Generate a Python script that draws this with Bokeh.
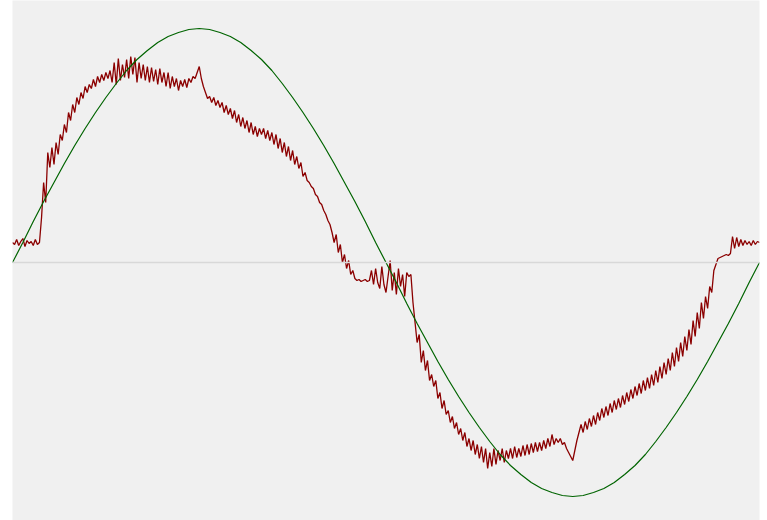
from bokeh.plotting import figure
from bokeh.models import Span, Range1d
from bokeh.embed import file_html
from bokeh.resources import INLINE

# Reference sine (green), one period, one value every 10 samples
green_quarter = [0, 20, 41, 61, 80, 99, 117, 134, 150, 165,
                 179, 192, 203, 212, 220, 226, 230, 233, 234]
green_vals = (green_quarter + green_quarter[-2::-1]
              + [-v for v in green_quarter[1:]] + [-v for v in green_quarter[-2::-1]])
green_x = list(range(0, 10 * len(green_vals), 10))

# Measured signal (dark red), one value every 2 samples
red_vals = [
    20, 18, 23, 17, 21, 24, 16, 22, 19, 21,
    17, 23, 18, 20, 45, 80, 60, 110, 95, 115,
    98, 120, 108, 128, 122, 138, 130, 150, 142, 158,
    150, 165, 158, 170, 164, 176, 170, 178, 174, 183,
    176, 186, 180, 188, 182, 190, 184, 192, 180, 200,
    178, 204, 182, 198, 185, 203, 184, 206, 188, 205,
    180, 200, 184, 198, 182, 196, 180, 195, 181, 193,
    178, 194, 180, 190, 176, 190, 174, 186, 176, 184,
    172, 182, 176, 183, 175, 184, 180, 186, 184, 190,
    196, 184, 176, 170, 164, 166, 160, 165, 157, 162,
    155, 160, 150, 157, 148, 154, 144, 152, 140, 148,
    136, 145, 134, 142, 130, 140, 128, 136, 126, 134,
    128, 134, 124, 132, 122, 130, 118, 128, 114, 124,
    110, 120, 106, 116, 102, 112, 98, 106, 94, 100,
    86, 90, 82, 80, 76, 74, 68, 66, 60, 58,
    52, 48, 42, 38, 30, 20, 28, 10, 18, 0,
    8, -6, 2, -12, -8, -16, -18, -17, -19, -18,
    -17, -19, -18, -8, -22, -6, -20, -26, -4, -22,
    -30, -14, 2, -28, -10, -32, -6, -24, -12, -34,
    -10, -14, -12, -40, -60, -80, -72, -100, -88, -108,
    -98, -118, -112, -124, -118, -136, -130, -146, -138, -152,
    -148, -160, -154, -166, -160, -172, -166, -178, -170, -184,
    -176, -188, -178, -192, -182, -196, -184, -200, -186, -206,
    -190, -204, -186, -202, -188, -198, -186, -200, -188, -196,
    -186, -196, -184, -195, -186, -194, -183, -193, -182, -192,
    -181, -190, -180, -189, -180, -188, -178, -186, -176, -184,
    -172, -182, -176, -180, -176, -182, -180, -186, -190, -194,
    -198, -188, -178, -170, -162, -170, -159, -167, -156, -164,
    -153, -162, -150, -158, -146, -155, -144, -153, -141, -150,
    -138, -147, -136, -145, -133, -142, -130, -139, -127, -136,
    -124, -133, -121, -131, -118, -128, -115, -126, -112, -123,
    -108, -120, -104, -116, -100, -112, -96, -108, -90, -104,
    -85, -99, -80, -94, -74, -88, -67, -82, -58, -74,
    -50, -66, -40, -56, -34, -46, -24, -30, -8, -2,
    4, 5, 6, 7, 8, 7, 9, 26, 14, 25,
    16, 23, 17, 22, 18, 21, 17, 22, 18, 21,
    20,
]
red_x = list(range(0, 2 * len(red_vals), 2))

p = figure(width=763, height=520, output_backend="svg", toolbar_location=None,
           x_range=Range1d(0, 720), y_range=Range1d(-258, 262),
           min_border_left=12, min_border_right=4, min_border_top=0, min_border_bottom=0)
p.background_fill_color = "#f0f0f0"
p.border_fill_color = "white"
p.outline_line_color = None
p.axis.visible = False
p.grid.visible = False

p.add_layout(Span(location=0, dimension="width", line_color="#d8d8d8", line_width=1.5))
p.line(red_x, red_vals, line_color="#8b0000", line_width=1.3)
p.line(green_x, green_vals, line_color="#006400", line_width=1.2)

open("out.html", "w").write(file_html(p, INLINE))
